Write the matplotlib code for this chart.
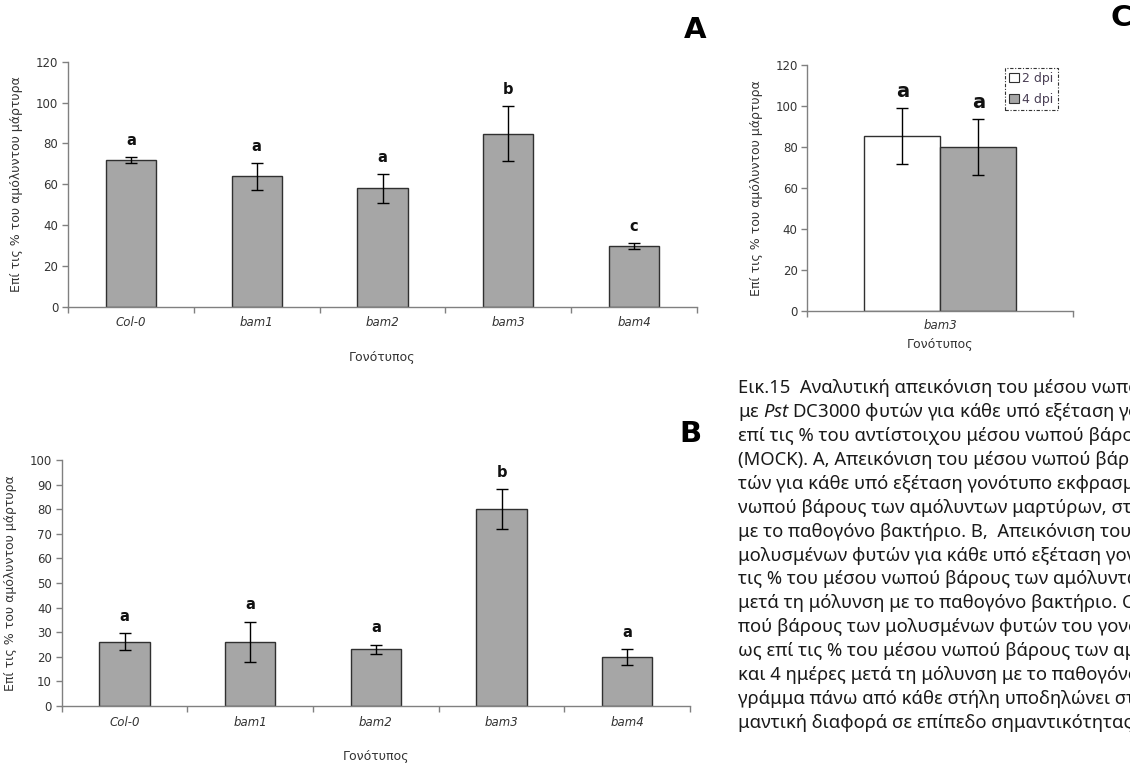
import matplotlib
matplotlib.use("Agg")
import matplotlib.pyplot as plt
from matplotlib.patches import Patch

plt.rcParams['font.family'] = ['DejaVu Sans']
plt.rcParams['mathtext.fontset'] = 'custom'
plt.rcParams['mathtext.it'] = 'Noto Sans:italic'
plt.rcParams['mathtext.rm'] = 'Noto Sans'

# Fresh weight of infected plants, % of the mock control
genotypes = ['Col-0', 'bam1', 'bam2', 'bam3', 'bam4']

a_mean = [71.8, 63.9, 58.0, 84.7, 29.7]
a_err = [1.4, 6.5, 7.0, 13.5, 1.4]
a_letters = ['a', 'a', 'a', 'b', 'c']

b_mean = [26.1, 26.1, 23.0, 80.0, 19.8]
b_err = [3.5, 8.2, 2.0, 8.2, 3.3]
b_letters = ['a', 'a', 'a', 'b', 'a']

c_genotype = 'bam3'
c_series = ['2 dpi', '4 dpi']
c_mean = [85.4, 80.0]
c_err = [13.7, 13.5]
c_letters = ['a', 'a']

ylabel = 'Επί τις % του αμόλυντου μάρτυρα'
xlabel = 'Γονότυπος'

caption = [
    'Εικ.15  Αναλυτική απεικόνιση του μέσου νωπού βάρους',
    'με $\\it{Pst}$ DC3000 φυτών για κάθε υπό εξέταση γονότυπο',
    'επί τις % του αντίστοιχου μέσου νωπού βάρους των',
    '(MOCK). A, Απεικόνιση του μέσου νωπού βάρους των',
    'τών για κάθε υπό εξέταση γονότυπο εκφρασμένου ως',
    'νωπού βάρους των αμόλυντων μαρτύρων, στις 2 ημέρες',
    'με το παθογόνο βακτήριο. B,  Απεικόνιση του μέσου',
    'μολυσμένων φυτών για κάθε υπό εξέταση γονότυπο',
    'τις % του μέσου νωπού βάρους των αμόλυντων μαρτύρων',
    'μετά τη μόλυνση με το παθογόνο βακτήριο. C, Απεικόνιση',
    'πού βάρους των μολυσμένων φυτών του γονότυπου bam3',
    'ως επί τις % του μέσου νωπού βάρους των αμόλυντων',
    'και 4 ημέρες μετά τη μόλυνση με το παθογόνο βακτήριο',
    'γράμμα πάνω από κάθε στήλη υποδηλώνει στατιστικά',
    'μαντική διαφορά σε επίπεδο σημαντικότητας p',
]

BAR = '#a6a6a6'
EDGE = '#303030'
AXIS = '#808080'
TXT = '#333333'

W, H = 1130, 764
fig = plt.figure(figsize=(W / 100, H / 100), dpi=100)


def px_axes(left, top, right, bottom):
    return fig.add_axes([left / W, 1 - bottom / H, (right - left) / W, (bottom - top) / H])


def style(ax, ymax, ystep):
    for s in ['top', 'right']:
        ax.spines[s].set_visible(False)
    for s in ['left', 'bottom']:
        ax.spines[s].set_color(AXIS)
        ax.spines[s].set_linewidth(1.0)
    ax.set_ylim(0, ymax)
    ax.set_yticks(range(0, ymax + 1, ystep))
    ax.tick_params(axis='y', direction='out', length=4, width=1, color=AXIS,
                   labelsize=8.5, labelcolor=TXT, pad=3)
    ax.tick_params(axis='x', which='major', length=0, labelsize=8.5,
                   labelcolor=TXT, pad=7)
    ax.tick_params(axis='x', which='minor', direction='out', length=4,
                   width=1, color=AXIS)
    for lab in ax.get_xticklabels():
        lab.set_fontstyle('italic')
    ax.set_ylabel(ylabel, fontsize=9, color=TXT, labelpad=9)


def genotype_panel(ax, means, errs, letters, ymax, ystep):
    x = list(range(len(genotypes)))
    ax.bar(x, means, width=0.4, color=BAR, edgecolor=EDGE, linewidth=1.0,
           yerr=errs, capsize=4, error_kw=dict(ecolor='black', elinewidth=1.0,
                                               capthick=1.0))
    for xi, m, e, t in zip(x, means, errs, letters):
        ax.annotate(t, (xi, m + e), xytext=(0, 12), textcoords='offset points',
                    ha='center', va='center', fontsize=10.5, fontweight='bold',
                    color='#111111')
    ax.set_xlim(-0.5, len(genotypes) - 0.5)
    ax.set_xticks(x)
    ax.set_xticklabels(genotypes)
    ax.set_xticks([i - 0.5 for i in range(len(genotypes) + 1)], minor=True)
    style(ax, ymax, ystep)
    ax.set_xlabel(xlabel, fontsize=9, color=TXT, labelpad=15.5)


# panel A
ax_a = px_axes(68, 61.7, 697, 306.7)
genotype_panel(ax_a, a_mean, a_err, a_letters, 120, 20)

# panel B
ax_b = px_axes(61.7, 460, 690, 706)
genotype_panel(ax_b, b_mean, b_err, b_letters, 100, 10)

# panel C: bam3 at 2 and 4 dpi
ax_c = px_axes(807.3, 65, 1073.3, 310.7)
bw = 0.286
offsets = [-bw / 2, bw / 2]
colors = ['white', BAR]
for off, m, e, col, lab, t in zip(offsets, c_mean, c_err, colors, c_series, c_letters):
    ax_c.bar(off, m, width=bw, color=col, edgecolor=EDGE, linewidth=1.0,
             yerr=e, capsize=4, error_kw=dict(ecolor='black', elinewidth=1.0,
                                              capthick=1.0), label=lab)
    ax_c.annotate(t, (off, m + e), xytext=(0, 12), textcoords='offset points',
                  ha='center', va='center', fontsize=14, fontweight='bold',
                  color='#111111')
ax_c.set_xlim(-0.5, 0.5)
ax_c.set_xticks([0])
ax_c.set_xticklabels([c_genotype])
ax_c.set_xticks([-0.5, 0.5], minor=True)
style(ax_c, 120, 20)
ax_c.tick_params(axis='x', which='major', pad=6)
ax_c.set_xlabel(xlabel, fontsize=9, color=TXT, labelpad=4)

handles = [Patch(facecolor=c, edgecolor=EDGE, linewidth=0.8) for c in colors]
leg = ax_c.legend(handles, c_series, loc='upper left',
                  bbox_to_anchor=(1005 / W, 1 - 67.7 / H),
                  bbox_transform=fig.transFigure, borderaxespad=0,
                  fontsize=9, frameon=True, fancybox=False,
                  handlelength=0.75, handleheight=0.75, handletextpad=0.25,
                  borderpad=0.35, labelspacing=0.6)
frame = leg.get_frame()
frame.set_edgecolor('black')
frame.set_linestyle((0, (3, 1.5, 1, 1.5)))
frame.set_linewidth(0.8)
for t in leg.get_texts():
    t.set_color('#4a3f55')

# panel letters
for lab, x, y in [('A', 695, 30), ('B', 690, 434), ('C', 1121, 18)]:
    fig.text(x / W, 1 - y / H, lab, ha='center', va='center', fontsize=21,
             fontweight='heavy', color='black')

# caption, running off the right edge of the page
for i, line in enumerate(caption):
    fig.text(738 / W, 1 - (388 + i * 23.93) / H, line, ha='left', va='center',
             fontsize=13.3, family='Noto Sans', color='#1a1a1a')

fig.savefig('out.png', dpi=100)
